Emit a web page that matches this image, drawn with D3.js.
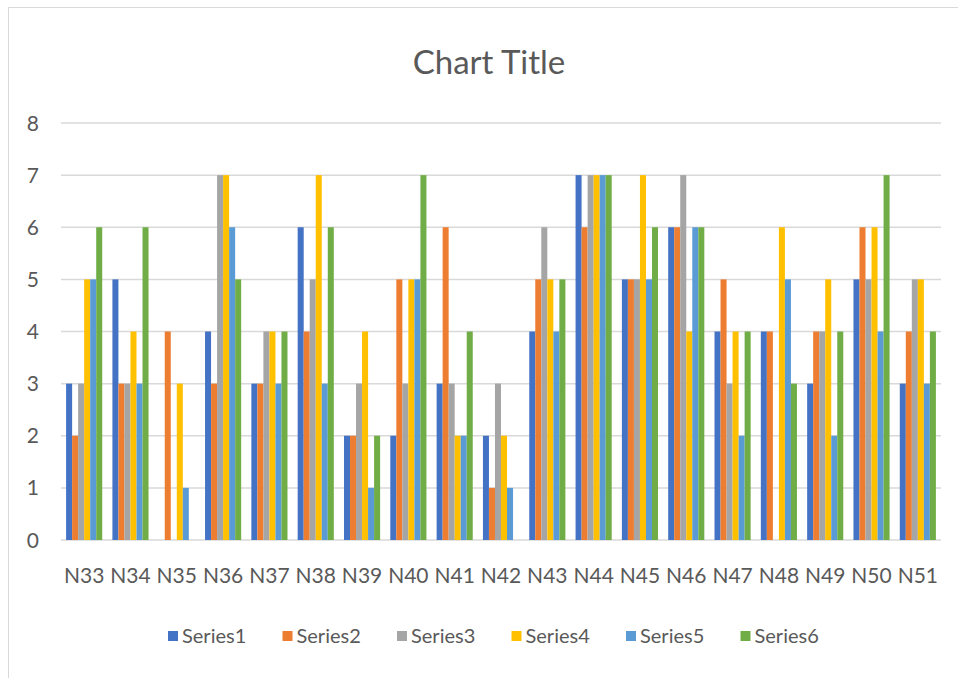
<!DOCTYPE html>
<html>
<head>
<meta charset="utf-8">
<script src="https://cdn.jsdelivr.net/npm/d3@7"></script>
<style>
  body { margin: 0; background: #fff; }
  text { font-family: Lato, "Open Sans", sans-serif; fill: #595959; }
</style>
</head>
<body>
<div id="chart"></div>
<script>
// data
var categories = ["N33", "N34", "N35", "N36", "N37", "N38", "N39", "N40", "N41", "N42",
                  "N43", "N44", "N45", "N46", "N47", "N48", "N49", "N50", "N51"];
var seriesNames = ["Series1", "Series2", "Series3", "Series4", "Series5", "Series6"];
var series1 = [3, 5, 0, 4, 3, 6, 2, 2, 3, 2, 4, 7, 5, 6, 4, 4, 3, 5, 3];
var series2 = [2, 3, 4, 3, 3, 4, 2, 5, 6, 1, 5, 6, 5, 6, 5, 4, 4, 6, 4];
var series3 = [3, 3, 0, 7, 4, 5, 3, 3, 3, 3, 6, 7, 5, 7, 3, 0, 4, 5, 5];
var series4 = [5, 4, 3, 7, 4, 7, 4, 5, 2, 2, 5, 7, 7, 4, 4, 6, 5, 6, 5];
var series5 = [5, 3, 1, 6, 3, 3, 1, 5, 2, 1, 4, 7, 5, 6, 2, 5, 2, 4, 3];
var series6 = [6, 6, 0, 5, 4, 6, 2, 7, 4, 0, 5, 7, 6, 6, 4, 3, 4, 7, 4];
var yTicks = [0, 1, 2, 3, 4, 5, 6, 7, 8];
var colors = ["#4472C4", "#ED7D31", "#A5A5A5", "#FFC000", "#5B9BD5", "#70AD47"];

var allSeries = [series1, series2, series3, series4, series5, series6];

var width = 958, height = 678;
var margin = { top: 123, left: 61, right: 17, bottom: 138 };

var svg = d3.select("#chart").append("svg")
    .attr("width", width)
    .attr("height", height);

// chart border
svg.append("rect")
    .attr("x", 8.5).attr("y", 7.5)
    .attr("width", width).attr("height", height)
    .attr("fill", "none")
    .attr("stroke", "#d9d9d9");

var x = d3.scaleBand()
    .domain(categories)
    .range([margin.left, width - margin.right])
    .paddingInner(0.22)
    .paddingOuter(0.11);

var xInner = d3.scaleBand()
    .domain(seriesNames)
    .range([0, x.bandwidth()]);

var y = d3.scaleLinear()
    .domain([0, 8])
    .range([height - margin.bottom, margin.top]);

// gridlines
svg.append("g")
    .selectAll("line")
    .data(yTicks)
    .enter().append("line")
    .attr("x1", margin.left)
    .attr("x2", width - margin.right)
    .attr("y1", function (d) { return y(d); })
    .attr("y2", function (d) { return y(d); })
    .attr("stroke", "#d9d9d9")
    .attr("stroke-width", 1.5);

// y labels
svg.append("g")
    .selectAll("text")
    .data(yTicks)
    .enter().append("text")
    .attr("x", 39)
    .attr("y", function (d) { return y(d); })
    .attr("dy", "0.36em")
    .attr("text-anchor", "end")
    .style("font-size", "21px")
    .text(function (d) { return d; });

// bars
var groups = svg.append("g")
    .selectAll("g")
    .data(categories)
    .enter().append("g")
    .attr("transform", function (d) { return "translate(" + x(d) + ",0)"; });

groups.selectAll("rect")
    .data(function (d, i) {
        return allSeries.map(function (s, j) { return { name: seriesNames[j], value: s[i], color: colors[j] }; });
    })
    .enter().append("rect")
    .attr("x", function (d) { return xInner(d.name); })
    .attr("width", xInner.bandwidth())
    .attr("y", function (d) { return y(d.value); })
    .attr("height", function (d) { return y(0) - y(d.value); })
    .attr("fill", function (d) { return d.color; });

// x labels
svg.append("g")
    .selectAll("text")
    .data(categories)
    .enter().append("text")
    .attr("x", function (d) { return x(d) + x.bandwidth() / 2; })
    .attr("y", 583)
    .attr("text-anchor", "middle")
    .style("font-size", "21px")
    .text(function (d) { return d; });

// title
svg.append("text")
    .attr("x", 489)
    .attr("y", 74)
    .attr("text-anchor", "middle")
    .style("font-size", "33px")
    .text("Chart Title");

// legend
var legend = svg.append("g")
    .selectAll("g")
    .data(seriesNames)
    .enter().append("g")
    .attr("transform", function (d, i) { return "translate(" + (168 + i * 114.5) + ",636)"; });

legend.append("rect")
    .attr("x", 0).attr("y", -5)
    .attr("width", 10).attr("height", 10)
    .attr("fill", function (d, i) { return colors[i]; });

legend.append("text")
    .attr("x", 14)
    .attr("y", 0)
    .attr("dy", "0.36em")
    .style("font-size", "20px")
    .text(function (d) { return d; });
</script>
</body>
</html>
